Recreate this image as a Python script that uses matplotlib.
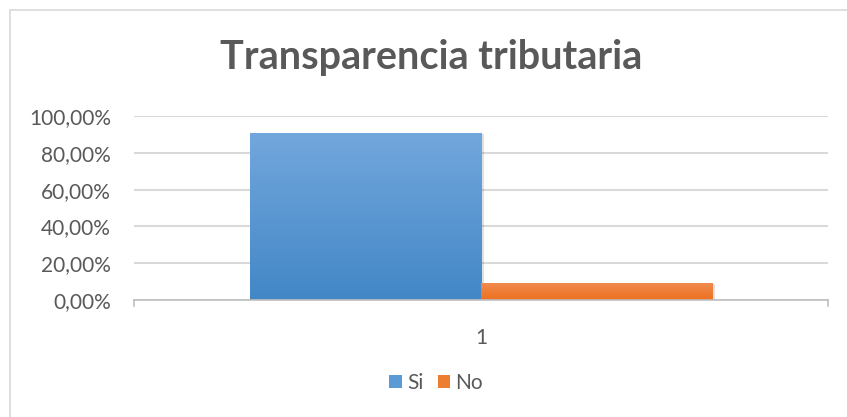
import matplotlib
matplotlib.use("Agg")
import matplotlib.pyplot as plt
import numpy as np
from matplotlib.patches import Rectangle
from matplotlib.ticker import FixedLocator, FuncFormatter
import matplotlib.colors as mcolors

title = "Transparencia tributaria"
categories = ["1"]
series_names = ["Si", "No"]
series_values = [0.906, 0.094]
yticks = [0.0, 0.2, 0.4, 0.6, 0.8, 1.0]

top_colors = ["#72A7DC", "#F18C52"]
bottom_colors = ["#4387C7", "#ED701F"]
legend_colors = ["#5B9BD5", "#ED7D31"]

plt.rcParams['font.family'] = ['Lato', 'DejaVu Sans']
text_color = "#595959"

fig = plt.figure(figsize=(8.47, 4.17), dpi=100)
fig.patch.set_facecolor("white")
# outer border
fig.add_artist(Rectangle((10/847, -0.05), 1.1, 1 - 10/417 + 0.05, transform=fig.transFigure,
                         facecolor="none", edgecolor="#D9D9D9", linewidth=1.2))

ax = fig.add_axes([134/847, 1 - 300/417, (828-134)/847, (300-116)/417])
ax.set_facecolor("none")

n = len(series_names)
group = 1/1.5
w = group / n
x0 = np.arange(len(categories)) + 1
for i, (name, v) in enumerate(zip(series_names, series_values)):
    xc = x0 - group/2 + w*(i + 0.5)
    # shadow
    for j in range(len(categories)):
        sh = Rectangle((xc[j] - w/2 + 0.004, -0.005), w, v, facecolor="#000000", alpha=0.12,
                       edgecolor="none", zorder=2)
        ax.add_patch(sh)
    bars = ax.bar(xc, [v], width=w, color="none", edgecolor="none", zorder=3, label=name)
    cmap = mcolors.LinearSegmentedColormap.from_list("g", [bottom_colors[i], top_colors[i]])
    for b in bars:
        grad = np.linspace(0, 1, 256).reshape(-1, 1)
        im = ax.imshow(grad, cmap=cmap, origin="lower", aspect="auto",
                       extent=(b.get_x(), b.get_x() + b.get_width(), 0, b.get_height()),
                       zorder=3)
        im.set_clip_path(b)

ax.set_xlim(0.5, len(categories) + 0.5)
ax.set_ylim(0, 1.0)

ax.yaxis.set_major_locator(FixedLocator(yticks))
ax.yaxis.set_major_formatter(FuncFormatter(lambda v, p: f"{v*100:.2f}%".replace(".", ",")))
ax.grid(axis="y", color="#D9D9D9", linewidth=1.5, zorder=0)
ax.set_axisbelow(True)
ax.tick_params(axis="y", length=0, labelsize=15, labelcolor=text_color, pad=16.5)
ax.set_xticks(x0)
ax.set_xticklabels(categories)
ax.tick_params(axis="x", length=0, labelsize=15, labelcolor=text_color, pad=20)

for s in ["top", "right", "left"]:
    ax.spines[s].set_visible(False)
ax.spines["bottom"].set_color("#BFBFBF")
ax.spines["bottom"].set_linewidth(1.2)
ax.spines["bottom"].set_zorder(5)
# end tick marks on category axis
for xx in [0.5, len(categories) + 0.5]:
    ax.plot([xx, xx], [0, -0.035], color="#BFBFBF", linewidth=1.2, clip_on=False, zorder=5)

fig.text(431/847, 1 - 58/417, title, ha="center", va="center", fontsize=28.5,
         fontweight="bold", color=text_color)

handles = [Rectangle((0, 0), 1, 1, facecolor=c, edgecolor="none") for c in legend_colors]
fig.legend(handles, series_names, loc="center", bbox_to_anchor=(436/847, 1 - 383/417),
           ncol=2, frameon=False, fontsize=15, labelcolor=text_color,
           handlelength=0.6, handleheight=0.6, handletextpad=0.25, columnspacing=0.7)

fig.savefig("out.png", dpi=100)
